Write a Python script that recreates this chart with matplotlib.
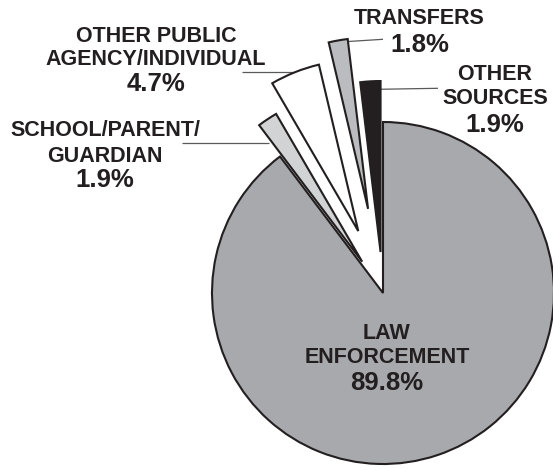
import matplotlib.pyplot as plt

# Data
categories = ['LAW\nENFORCEMENT', 'SCHOOL/PARENT/\nGUARDIAN', 'OTHER PUBLIC\nAGENCY/INDIVIDUAL',
              'TRANSFERS', 'OTHER\nSOURCES']
values = [89.8, 1.9, 4.7, 1.8, 1.9]

# Style
colors = ['#a7a9ac', '#d1d3d4', '#ffffff', '#babcbf', '#231f20']
R = 171
# pie explode is in data units, so scale the fractions by the radius
explode = [f * R for f in [0, 0.22, 0.39, 0.50, 0.24]]
TXT = '#231f20'
H = 470  # image height, used to flip y (positions read top-down)

plt.rcParams['font.family'] = ['Liberation Sans', 'DejaVu Sans']

fig = plt.figure(figsize=(5.53, 4.70), dpi=100)
ax = fig.add_axes([0, 0, 1, 1])

ax.pie(values, colors=colors, explode=explode, startangle=90, counterclock=False,
       center=(383, H - 293), radius=R, frame=True,
       wedgeprops=dict(edgecolor=TXT, linewidth=1.5, joinstyle='miter'))

ax.set_xlim(0, 553)
ax.set_ylim(0, H)
ax.set_aspect('equal')
ax.axis('off')

# leader lines (image coords)
leaders = [
    ((182, 142.7), (269, 142.7)),
    ((242, 72.3), (293, 72.3)),
    ((345, 41.7), (383, 39.3)),
    ((378, 89.3), (438, 88.3)),
]
for (x0, y0), (x1, y1) in leaders:
    ax.plot([x0, x1], [H - y0, H - y1], color='#58595b', lw=0.9, zorder=0.5,
            solid_capstyle='butt')

# label lines: x centre, baselines for name lines and the percentage
label_pos = [
    (387, [339.3, 363.3], 390),
    (105, [135.5, 161.7], 187.3),
    (156, [41.5, 65], 90.7),
    (419.5, [24], 51.7),
    (495, [80, 104], 131.7),
]

for cat, val, (x, ys, yp) in zip(categories, values, label_pos):
    for line, y in zip(cat.split('\n'), ys):
        ax.text(x, H - y, line, ha='center', va='baseline', fontsize=15.5,
                fontweight='bold', color=TXT, zorder=5)
    ax.text(x, H - yp, f'{val}%', ha='center', va='baseline', fontsize=18.5,
            fontweight='bold', color=TXT, zorder=5)

fig.savefig('out.png', dpi=100)
